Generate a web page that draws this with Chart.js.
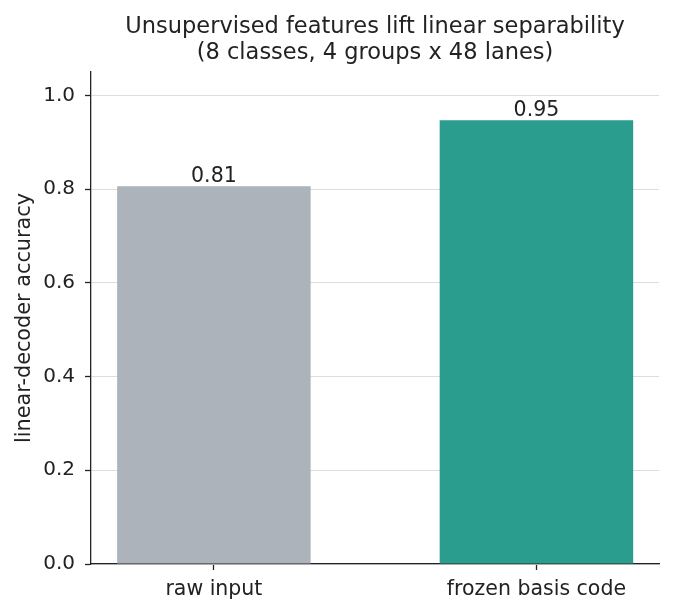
<!DOCTYPE html>
<html>
<head>
<meta charset="utf-8">
<script src="https://cdn.jsdelivr.net/npm/chart.js@4"></script>
<style>
  html, body { margin: 0; padding: 0; background: #fff; }
  #wrap { width: 674px; height: 614px; }
</style>
</head>
<body>
<div id="wrap"><canvas id="myChart" width="674" height="614"></canvas></div>
<script>
// ---- data
var categories = ["raw input", "frozen basis code"];
var accuracy = [0.806, 0.947];
var barColors = ["#adb3ba", "#2a9d8f"];
var yTicks = [0.0, 0.2, 0.4, 0.6, 0.8, 1.0];
var titleLines = ["Unsupervised features lift linear separability", "(8 classes, 4 groups x 48 lanes)"];

var FONT = "'DejaVu Sans', sans-serif";
var INK = "#222";

// ---- value labels above the bars
var barLabels = {
    id: 'barLabels',
    afterDatasetsDraw: function (chart){
        var ctx = chart.ctx;
        var meta = chart.getDatasetMeta(0);
        ctx.save();
        ctx.font = "20.5px " + FONT;
        ctx.fillStyle = INK;
        ctx.textAlign = "center";
        ctx.textBaseline = "alphabetic";
        meta.data.forEach(function (bar, i){
            ctx.fillText(accuracy[i].toFixed(2), bar.x, bar.y - 4.5);
        });
        ctx.restore();
    }
};

// ---- title centred over the plot area (like matplotlib), not the canvas
var plotTitle = {
    id: 'plotTitle',
    afterDraw: function (chart){
        var ctx = chart.ctx;
        var area = chart.chartArea;
        var cx = (area.left + area.right) / 2;
        ctx.save();
        ctx.font = "22.5px " + FONT;
        ctx.fillStyle = INK;
        ctx.textAlign = "center";
        ctx.textBaseline = "alphabetic";
        for (var i = 0; i < titleLines.length; ++i){
            ctx.fillText(titleLines[i], cx, 32.5 + i * 26.7);
        }
        ctx.restore();
    }
};

var points = [];
for (var i = 0; i < categories.length; ++i){
    points.push({x: i, y: accuracy[i]});
}

var ctx = document.getElementById("myChart");
var myChart = new Chart(ctx, {
    type: "bar",
    data: {
        datasets: [{
            data: points,
            backgroundColor: barColors,
            borderWidth: 0,
            barPercentage: 0.6,
            categoryPercentage: 1.0
        }]
    },
    options: {
        responsive: false,
        animation: false,
        layout: {padding: {left: 0, right: 15, top: 72, bottom: 0}},
        plugins: {
            legend: {display: false},
            tooltip: {enabled: false},
            title: {display: false}
        },
        scales: {
            x: {
                type: "linear",
                min: -0.381,
                max: 1.38,
                offset: false,
                grid: {offset: false, drawOnChartArea: false, tickColor: INK, tickLength: 6, tickWidth: 1.3},
                border: {display: true, color: INK, width: 1.3},
                afterBuildTicks: function (scale){
                    scale.ticks = categories.map(function (c, i){ return {value: i}; });
                },
                ticks: {
                    color: INK,
                    font: {family: FONT, size: 20.5},
                    padding: 7,
                    autoSkip: false,
                    maxRotation: 0,
                    callback: function (v){ return categories[v]; }
                },
                afterFit: function (scale){ scale.height = 50; }
            },
            y: {
                min: 0,
                max: 1.05,
                grid: {color: "#dddddd", lineWidth: 1, tickColor: INK, tickLength: 6, tickWidth: 1.3},
                border: {display: true, color: INK, width: 1.3},
                afterBuildTicks: function (scale){
                    scale.ticks = yTicks.map(function (v){ return {value: v}; });
                },
                ticks: {
                    color: INK,
                    font: {family: FONT, size: 20},
                    padding: 10,
                    callback: function (v){ return v.toFixed(1); }
                },
                title: {
                    display: true,
                    text: "linear-decoder accuracy",
                    color: INK,
                    font: {family: FONT, size: 20.8},
                    padding: {top: 12, bottom: 0}
                },
                afterFit: function (scale){ scale.width = 91; }
            }
        }
    },
    plugins: [barLabels, plotTitle]
});
</script>
</body>
</html>
